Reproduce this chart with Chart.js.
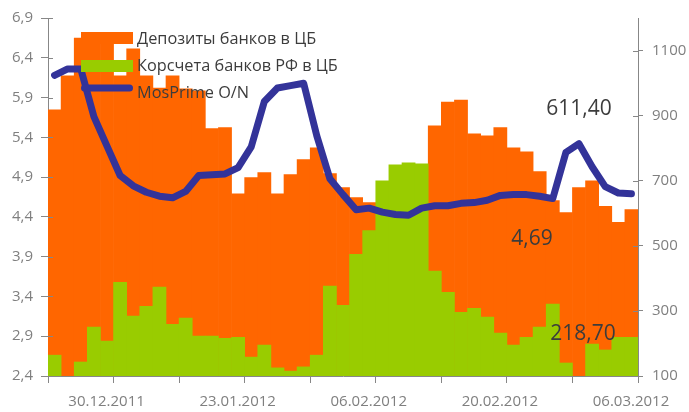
<!DOCTYPE html>
<html>
<head>
<meta charset="utf-8">
<script src="https://cdn.jsdelivr.net/npm/chart.js@4.4.1/dist/chart.umd.min.js"></script>
<style>
  html, body { margin: 0; padding: 0; background: #fff; }
  canvas { display: block; }
</style>
</head>
<body>
<canvas id="chart" width="689" height="412"></canvas>
<script>
// tick labels on the bottom axis (every 10 trading days)
var tickLabels = ["30.12.2011", "23.01.2012", "06.02.2012", "20.02.2012", "06.03.2012"];

// Депозиты банков в ЦБ, bn rub (right axis)
var deposits = [918, 1022, 1138, 1140, 1135, 1022, 1105, 1022, 985, 1022,
                982, 976, 860, 863, 660, 710, 725, 660, 719, 765,
                801, 722, 679, 648, 633, 560, 520, 500, 540, 869,
                942, 948, 844, 838, 863, 801, 789, 728, 639, 602,
                679, 700, 621, 572, 611.4];

// Корсчета банков РФ в ЦБ, bn rub (right axis)
var korschet = [164, 90, 143, 250, 207, 388, 284, 314, 373, 259,
                278, 223, 223, 216, 219, 158, 195, 125, 115, 128,
                164, 376, 317, 474, 547, 700, 749, 755, 752, 422,
                357, 296, 308, 281, 232, 195, 219, 250, 321, 140,
                90, 198, 180, 219, 218.7];

// MosPrime O/N, % (left axis)
var mosprime = [6.18, 6.26, 6.26, 5.66, 5.29, 4.92, 4.79, 4.71, 4.66, 4.64,
                4.72, 4.92, 4.93, 4.94, 5.02, 5.28, 5.85, 6.02, 6.05, 6.08,
                5.42, 4.88, 4.68, 4.49, 4.51, 4.46, 4.43, 4.42, 4.51, 4.54,
                4.54, 4.57, 4.58, 4.61, 4.67, 4.68, 4.68, 4.66, 4.63, 5.21,
                5.32, 5.03, 4.78, 4.70, 4.69];

var leftTicks = [2.4, 2.9, 3.4, 3.9, 4.4, 4.9, 5.4, 5.9, 6.4, 6.9];
var rightTicks = [100, 300, 500, 700, 900, 1100];

var ORANGE = '#FF6600', GREEN = '#99CC00', BLUE = '#333399';
var AXIS = '#878787', LABEL = '#7f7f7f', TEXT = '#3c3c3c';

function points(arr) {
  return arr.map(function (v, i) { return { x: i + 0.5, y: v }; });
}

function comma(v) { return v.toFixed(1).replace('.', ','); }

var overlay = {
  id: 'overlay',
  afterDatasetsDraw: function (chart) {
    var ctx = chart.ctx;
    var ya = chart.scales.yL, yb = chart.scales.yR;
    var left = chart.chartArea.left, right = chart.chartArea.right;
    ctx.save();
    // inner part of the axis tick marks
    ctx.strokeStyle = AXIS;
    ctx.lineWidth = 1;
    ctx.beginPath();
    leftTicks.forEach(function (t) {
      var y = Math.round(ya.getPixelForValue(t)) + 0.5;
      ctx.moveTo(left, y); ctx.lineTo(left + 5, y);
    });
    rightTicks.forEach(function (t) {
      var y = Math.round(yb.getPixelForValue(t)) + 0.5;
      ctx.moveTo(right - 5, y); ctx.lineTo(right, y);
    });
    ctx.stroke();

    // legend
    ctx.fillStyle = ORANGE;
    ctx.fillRect(81, 32, 52, 12);
    ctx.fillStyle = GREEN;
    ctx.fillRect(81, 60, 52, 12);
    ctx.strokeStyle = BLUE;
    ctx.lineWidth = 7;
    ctx.lineCap = 'round';
    ctx.beginPath();
    ctx.moveTo(84.5, 88); ctx.lineTo(129.5, 88);
    ctx.stroke();

    ctx.fillStyle = TEXT;
    ctx.font = "16.3px 'Open Sans'";
    ctx.textAlign = 'left';
    ctx.textBaseline = 'alphabetic';
    ctx.fillText('Депозиты банков в ЦБ', 137, 44);
    ctx.fillText('Корсчета банков РФ в ЦБ', 137, 71);
    ctx.fillText('MosPrime O/N', 137, 98);

    // last values
    ctx.font = "21px 'Open Sans'";
    ctx.textAlign = 'center';
    ctx.fillText(deposits[deposits.length - 1].toFixed(2).replace('.', ','), 579, 115);
    ctx.fillText(mosprime[mosprime.length - 1].toFixed(2).replace('.', ','), 532, 245);
    ctx.fillText(korschet[korschet.length - 1].toFixed(2).replace('.', ','), 583, 340);
    ctx.restore();
  }
};

new Chart(document.getElementById('chart').getContext('2d'), {
  type: 'bar',
  data: {
    datasets: [
      {
        type: 'line',
        label: 'MosPrime O/N',
        data: points(mosprime),
        yAxisID: 'yL',
        borderColor: BLUE,
        borderWidth: 7,
        pointRadius: 0,
        tension: 0,
        borderJoinStyle: 'round',
        borderCapStyle: 'round',
        order: 0
      },
      {
        label: 'Корсчета банков РФ в ЦБ',
        data: points(korschet),
        yAxisID: 'yR',
        backgroundColor: GREEN,
        order: 1
      },
      {
        label: 'Депозиты банков в ЦБ',
        data: points(deposits),
        yAxisID: 'yR',
        backgroundColor: ORANGE,
        order: 2
      }
    ]
  },
  options: {
    responsive: false,
    animation: false,
    devicePixelRatio: 1,
    layout: { padding: { top: 17, left: 0, right: 0, bottom: 0 } },
    datasets: {
      bar: { grouped: false, barPercentage: 1, categoryPercentage: 1, borderWidth: 0 }
    },
    plugins: { legend: { display: false }, tooltip: { enabled: false } },
    scales: {
      x: {
        type: 'linear',
        offset: false,
        min: 0,
        max: 45,
        afterBuildTicks: function (s) {
          var t = [];
          for (var v = 0; v <= 45; v += 5) t.push({ value: v });
          s.ticks = t;
        },
        afterFit: function (s) { s.height = 36; },
        grid: { drawOnChartArea: false, color: AXIS, tickLength: 7, offset: false },
        border: { color: AXIS },
        ticks: {
          autoSkip: false,
          maxRotation: 0,
          color: LABEL,
          padding: 10,
          labelOffset: -7,
          font: { family: "'Open Sans'", size: 15 },
          callback: function (v) { return (v % 10 === 5) ? tickLabels[(v - 5) / 10] : ''; }
        }
      },
      yL: {
        position: 'left',
        min: 2.4,
        max: 6.9,
        afterBuildTicks: function (s) { s.ticks = leftTicks.map(function (v) { return { value: v }; }); },
        afterFit: function (s) { s.width = 48; },
        grid: { drawOnChartArea: false, color: AXIS, tickLength: 7 },
        border: { color: AXIS },
        ticks: {
          color: LABEL,
          padding: 8,
          font: { family: "'Open Sans'", size: 15 },
          callback: function (v) { return comma(v); }
        }
      },
      yR: {
        position: 'right',
        min: 100,
        max: 1200,
        afterBuildTicks: function (s) { s.ticks = rightTicks.map(function (v) { return { value: v }; }); },
        afterFit: function (s) { s.width = 51; },
        grid: { drawOnChartArea: false, color: AXIS, tickLength: 5 },
        border: { color: AXIS },
        ticks: {
          color: LABEL,
          padding: 9,
          font: { family: "'Open Sans'", size: 15 },
          callback: function (v) { return String(v); }
        }
      }
    }
  },
  plugins: [overlay]
});
</script>
</body>
</html>
